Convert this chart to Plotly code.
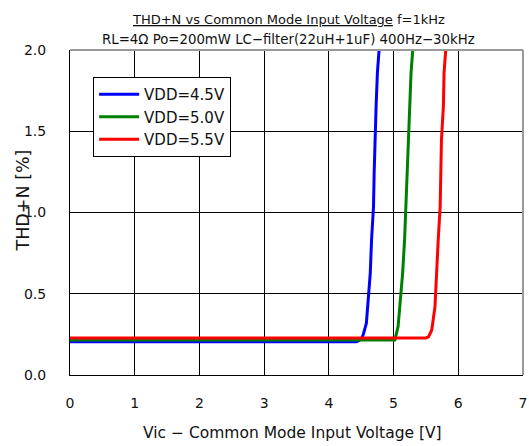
import plotly.graph_objects as go

# Data
x_45 = [0.0, 4.43, 4.50, 4.53, 4.58, 4.61, 4.64, 4.66, 4.69, 4.70, 4.71, 4.73, 4.75, 4.78]
y_45 = [0.205, 0.205, 0.22, 0.247, 0.319, 0.462, 0.627, 0.832, 1.037, 1.243, 1.448, 1.654, 1.859, 2.02]

x_50 = [0.0, 4.98, 5.02, 5.07, 5.11, 5.14, 5.17, 5.19, 5.22, 5.24, 5.25, 5.27, 5.30]
y_50 = [0.215, 0.215, 0.216, 0.298, 0.462, 0.627, 0.832, 1.037, 1.243, 1.448, 1.654, 1.859, 2.02]

x_55 = [0.0, 5.50, 5.54, 5.59, 5.64, 5.66, 5.69, 5.72, 5.73, 5.74, 5.77, 5.78, 5.81]
y_55 = [0.228, 0.228, 0.235, 0.277, 0.421, 0.627, 0.832, 1.037, 1.243, 1.448, 1.654, 1.859, 2.02]

series_names = ["VDD=4.5V", "VDD=5.0V", "VDD=5.5V"]
series_colors = ["#0000FF", "#008000", "#FF0000"]

x_ticks = [0, 1, 2, 3, 4, 5, 6, 7]
y_ticks = [0.0, 0.5, 1.0, 1.5, 2.0]
y_tick_labels = ["0.0", "0.5", "1.0", "1.5", "2.0"]

FONT = "DejaVu Sans, Noto Sans CJK JP, sans-serif"

fig = go.Figure()
for xs, ys, name, col in zip([x_45, x_50, x_55], [y_45, y_50, y_55], series_names, series_colors):
    fig.add_trace(go.Scatter(x=xs, y=ys, mode="lines", name=name,
                             line=dict(color=col, width=3)))

fig.update_layout(
    width=529, height=446,
    margin=dict(l=70, r=6, t=50, b=71, autoexpand=False),
    paper_bgcolor="white", plot_bgcolor="white",
    font=dict(family=FONT, color="#111", size=14),
    showlegend=True,
    legend=dict(x=0.051, y=0.917, xanchor="left", yanchor="top",
                bgcolor="white", bordercolor="black", borderwidth=1,
                font=dict(size=15, family=FONT, color="#111"),
                tracegroupgap=0, itemwidth=40),
    xaxis=dict(range=[0, 7], tickvals=x_ticks, showgrid=True, gridcolor="black", gridwidth=1,
               showline=True, linecolor="black", linewidth=1, zeroline=False, automargin=False,
               ticks="", ticklabelstandoff=15, tickfont=dict(size=14),
               ticklabeloverflow="allow"),
    yaxis=dict(range=[0, 2], tickvals=y_ticks, ticktext=y_tick_labels, showgrid=True,
               gridcolor="black", gridwidth=1, automargin=False,
               showline=True, linecolor="black", linewidth=1, zeroline=False,
               ticks="", ticklabelstandoff=20, tickfont=dict(size=14),
               ticklabeloverflow="allow"),
    shapes=[
        dict(type="line", xref="paper", yref="paper", x0=0, x1=1, y0=1, y1=1,
             line=dict(color="#999999", width=2)),
        dict(type="line", xref="paper", yref="paper", x0=1, x1=1, y0=0, y1=1,
             line=dict(color="#999999", width=2)),
    ],
    annotations=[
        dict(xref="paper", yref="paper", x=0.482, y=1.0, yshift=31, xanchor="center", yanchor="middle",
             showarrow=False, text="<u>THD+N vs Common Mode Input Voltage</u> f=1kHz",
             font=dict(size=13, family=FONT, color="#111")),
        dict(xref="paper", yref="paper", x=0.482, y=1.0, yshift=11, xanchor="center", yanchor="middle",
             showarrow=False, text="RL=4Ω Po=200mW LC−filter(22uH+1uF) 400Hz−30kHz",
             font=dict(size=13.3, family=FONT, color="#111")),
        dict(xref="paper", yref="paper", x=0.4915, y=0.0, yshift=-58, xanchor="center", yanchor="middle",
             showarrow=False, text="Vic − Common Mode Input Voltage [V]",
             font=dict(size=15.5, family=FONT, color="#111")),
        dict(xref="paper", yref="paper", x=0.0, xshift=-48, y=0.5, yshift=12, xanchor="center",
             yanchor="middle", textangle=-90, showarrow=False, text="THD+N [%]",
             font=dict(size=17.5, family=FONT, color="#111")),
    ],
)

fig.write_html("out.html", config={"displayModeBar": False},
               post_script="document.body.style.margin='0';document.body.style.overflow='hidden';")
